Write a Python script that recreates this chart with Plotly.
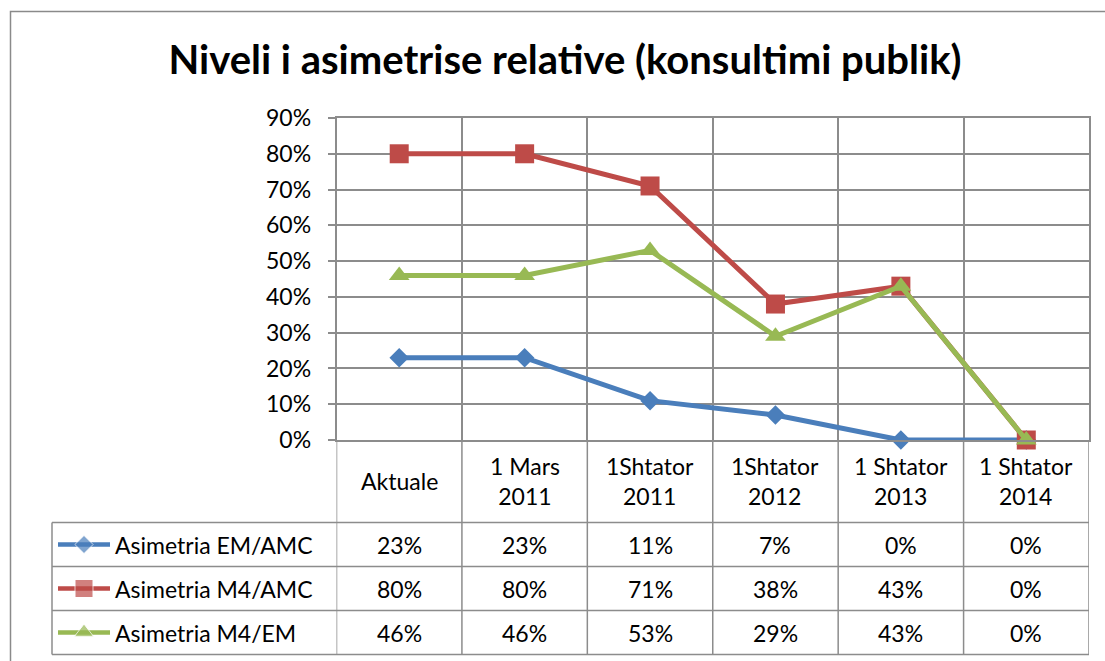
import plotly.graph_objects as go

# Te dhenat
kategorite = ['Aktuale', '1 Mars<br>2011', '1Shtator<br>2011', '1Shtator<br>2012',
              '1 Shtator<br>2013', '1 Shtator<br>2014']
seri_emrat = ['Asimetria EM/AMC', 'Asimetria M4/AMC', 'Asimetria M4/EM']
asim_em_amc = [0.23, 0.23, 0.11, 0.07, 0.0, 0.0]
asim_m4_amc = [0.80, 0.80, 0.71, 0.38, 0.43, 0.0]
asim_m4_em = [0.46, 0.46, 0.53, 0.29, 0.43, 0.0]
y_ticks = [0, 0.1, 0.2, 0.3, 0.4, 0.5, 0.6, 0.7, 0.8, 0.9]

seri = [asim_em_amc, asim_m4_amc, asim_m4_em]
ngjyrat = ['#4A7EBB', '#BE4B48', '#98B954']
simbolet = ['diamond', 'square', 'triangle-up']
madhesite = [15, 19, 18]

W, H = 1105, 661
FONT = 'Lato'
GRI = '#8C8C8C'


def px(x):
    return x / W


def py(y):
    return 1 - y / H


# pozicionet e tabeles (piksel)
plot_l, plot_r, plot_t, plot_b = 336.5, 1089, 118, 440
rreshtat = [440, 522.5, 566.5, 610.5, 654.5]
tab_l = 52

fig = go.Figure()

x_idx = list(range(len(kategorite)))
for vlera, emri, ngj, sim, mad in zip(seri, seri_emrat, ngjyrat, simbolet, madhesite):
    fig.add_trace(go.Scatter(
        x=x_idx, y=vlera, name=emri, mode='lines+markers',
        line=dict(color=ngj, width=5),
        marker=dict(symbol=sim, size=mad, color=ngj),
        showlegend=False, cliponaxis=False,
    ))

# celesat e legjendes ne tabele (aks i mbivendosur ne piksel)
for i, (ngj, sim, mad) in enumerate(zip(ngjyrat, simbolet, madhesite)):
    yc = (rreshtat[i + 1] + rreshtat[i + 2]) / 2
    fig.add_trace(go.Scatter(
        x=[58, 84, 110], y=[yc, yc, yc], mode='lines+markers',
        line=dict(color=ngj, width=4.5),
        marker=dict(symbol=sim, size=[0, mad - 1, 0], color=ngj),
        xaxis='x2', yaxis='y2', showlegend=False, hoverinfo='skip',
    ))

shapes = []
# korniza e jashtme
shapes.append(dict(type='rect', xref='paper', yref='paper',
                   x0=px(10.5), x1=px(1120), y0=py(11.5), y1=py(680),
                   line=dict(color='#8A8A8A', width=1.5)))
# vijat horizontale te tabeles
for y in rreshtat[1:]:
    shapes.append(dict(type='line', xref='paper', yref='paper',
                       x0=px(tab_l), x1=px(plot_r), y0=py(y), y1=py(y),
                       line=dict(color=GRI, width=1.5)))
shapes.append(dict(type='line', xref='paper', yref='paper',
                   x0=px(tab_l), x1=px(tab_l), y0=py(rreshtat[1]), y1=py(rreshtat[-1]),
                   line=dict(color=GRI, width=1.5)))
# vijat vertikale te kolonave
for k in range(len(kategorite) + 1):
    shapes.append(dict(type='line', xref='x', yref='paper',
                       x0=k - 0.5, x1=k - 0.5, y0=py(rreshtat[0]), y1=py(rreshtat[-1]),
                       line=dict(color=GRI, width=1.5)))

annotations = []
for i, kat in enumerate(kategorite):
    annotations.append(dict(x=i, y=py((rreshtat[0] + rreshtat[1]) / 2), xref='x', yref='paper',
                            text=kat, showarrow=False, align='center', yanchor='middle',
                            font=dict(family=FONT, size=23, color='#000000')))
for r, (vlera, emri) in enumerate(zip(seri, seri_emrat)):
    yc = py((rreshtat[r + 1] + rreshtat[r + 2]) / 2)
    annotations.append(dict(x=px(113), y=yc, xref='paper', yref='paper', text=emri,
                            xanchor='left', yanchor='middle', showarrow=False,
                            font=dict(family=FONT, size=23, color='#000000')))
    for i, v in enumerate(vlera):
        annotations.append(dict(x=i, y=yc, xref='x', yref='paper', text=f'{round(v * 100)}%',
                                showarrow=False, yanchor='middle',
                                font=dict(family=FONT, size=23, color='#000000')))

fig.update_layout(
    width=W, height=H,
    margin=dict(l=0, r=0, t=0, b=0, autoexpand=False),
    paper_bgcolor='white', plot_bgcolor='rgba(0,0,0,0)',
    title=dict(text='<b>Niveli i asimetrise relative (konsultimi publik)</b>',
               x=px(565), xanchor='center', y=py(60), yanchor='middle',
               font=dict(family=FONT, size=40, color='#000000')),
    xaxis=dict(domain=[px(plot_l), px(plot_r)], range=[-0.5, 5.5],
               tickmode='linear', tick0=-0.5, dtick=1, showticklabels=False,
               showgrid=True, gridcolor=GRI, gridwidth=1.5, zeroline=False,
               showline=True, linecolor=GRI, linewidth=1.5, mirror=True, fixedrange=True),
    yaxis=dict(domain=[py(plot_b), py(plot_t)], range=[0, 0.9],
               tickvals=y_ticks, tickformat='.0%', ticks='outside', ticklen=7,
               tickcolor=GRI, tickwidth=1.5, ticklabelstandoff=12,
               showgrid=True, gridcolor=GRI, gridwidth=1.5, zeroline=False,
               showline=True, linecolor=GRI, linewidth=1.5, mirror=True,
               tickfont=dict(family=FONT, size=23, color='#000000'), fixedrange=True),
    xaxis2=dict(domain=[0, 1], range=[0, W], visible=False, fixedrange=True, anchor='y2'),
    yaxis2=dict(domain=[0, 1], range=[H, 0], visible=False, fixedrange=True, anchor='x2'),
    shapes=shapes,
    annotations=annotations,
)

fig.write_html('out.html', config={'displayModeBar': False},
               post_script="document.body.style.margin='0';")
